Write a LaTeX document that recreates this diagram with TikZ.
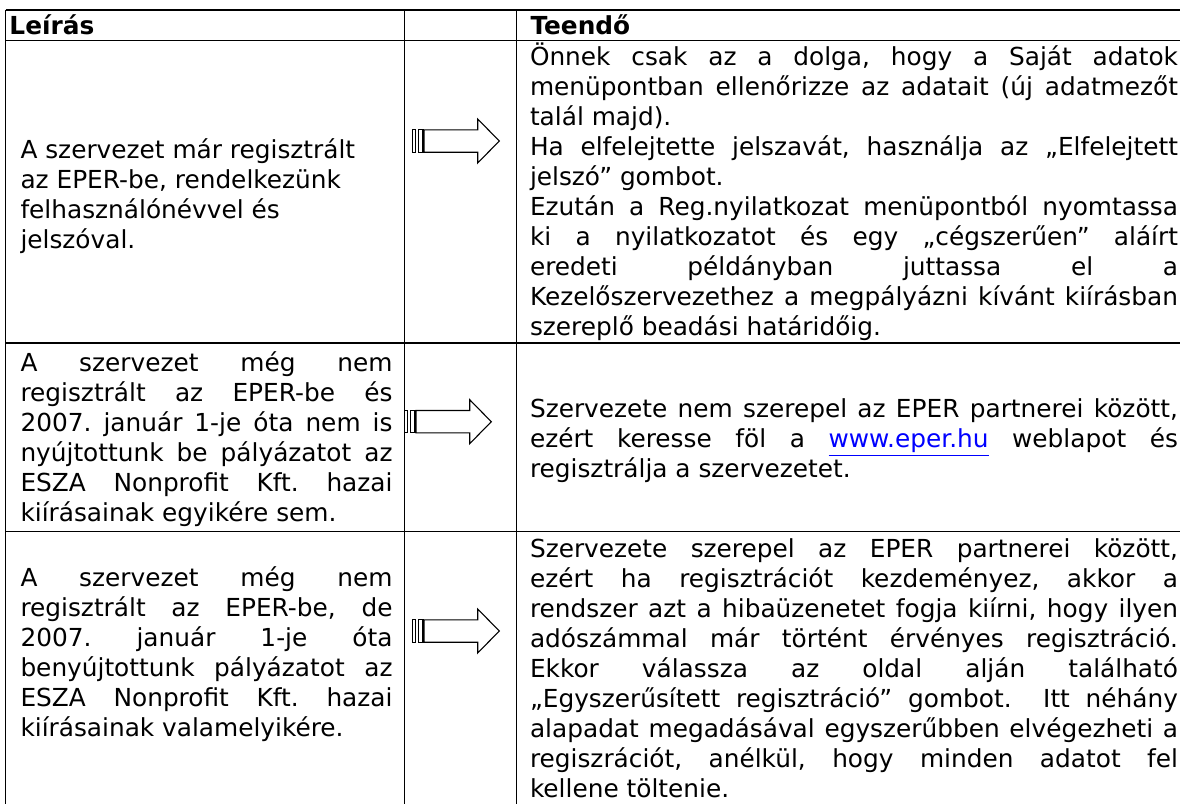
\documentclass[tikz,border=0pt]{standalone}
\usepackage{fontspec}
\setmainfont{DejaVu Sans}
\usepackage{xcolor}
\definecolor{linkblue}{RGB}{0,0,255}
\frenchspacing
\newcommand\bodyfont{\fontsize{12.4pt}{15pt}\selectfont\frenchspacing}
\newcommand\headfont{\fontsize{12.4pt}{15pt}\selectfont\bfseries}
\newcommand\JL[1]{\makebox[186pt][s]{#1}}
\newcommand\JR[1]{\makebox[324pt][s]{#1}}
\newcommand\weblink[1]{\textcolor{linkblue}{\underline{#1}}}
\tikzset{
  gridline/.style={line width=0.65pt, black},
  txt/.style={anchor=base west, inner sep=0pt, outer sep=0pt, font=\bodyfont, text=black},
  hd/.style={txt, font=\headfont},
  arrowpart/.style={draw=black, fill=white, line width=0.55pt, line join=miter},
}
\newcommand\stripedarrow[2]{%
  \begin{scope}[shift={(#1,#2)}]
    \draw[arrowpart] (0,-11.2) rectangle (3.4,11.2);
    \draw[arrowpart] (6,-11.2) rectangle (10.7,11.2);
    \draw[arrowpart] (11.7,-11.2) -- (65.4,-11.2) -- (65.4,-22) -- (87,0) -- (65.4,22) -- (65.4,11.2) -- (11.7,11.2) -- cycle;
  \end{scope}}
\begin{document}
\begin{tikzpicture}[x=0.5pt,y=-0.5pt]
\useasboundingbox (0,0) rectangle (1180,804);
\fill[white] (0,0) rectangle (1180,804);
\clip (0,0) rectangle (1180,804);
% table grid
\draw[gridline] (5.7,10) -- (1190,10);
\draw[gridline] (5.7,40.7) -- (1190,40.7);
\draw[gridline] (5.7,343) -- (1190,343);
\draw[gridline] (5.7,531.7) -- (1190,531.7);
\draw[gridline] (5.7,10) -- (5.7,810);
\draw[gridline] (404.3,10) -- (404.3,810);
\draw[gridline] (516.7,10) -- (516.7,810);
% header
\node[hd] (h1) at (9.5,34) {Leírás};
\node[hd] (h2) at (530.5,34) {Teendő};
% row 1 left
\node[txt] (r1a1) at (20.5,158) {A szervezet már regisztrált};
\node[txt] (r1a2) at (20.5,188) {az EPER-be, rendelkezünk};
\node[txt] (r1a3) at (20.5,218) {felhasználónévvel és};
\node[txt] (r1a4) at (20.5,248) {jelszóval.};
% row 1 right
\node[txt] (r1b1) at (530,65) {\JR{Önnek csak az a dolga, hogy a Saját adatok}};
\node[txt] (r1b2) at (530,95) {\JR{menüpontban ellenőrizze az adatait (új adatmezőt}};
\node[txt] (r1b3) at (530,125) {talál majd).};
\node[txt] (r1b4) at (530,155) {\JR{Ha elfelejtette jelszavát, használja az „Elfelejtett}};
\node[txt] (r1b5) at (530,185) {jelszó” gombot.};
\node[txt] (r1b6) at (530,215) {\JR{Ezután a Reg.nyilatkozat menüpontból nyomtassa}};
\node[txt] (r1b7) at (530,245) {\JR{ki a nyilatkozatot és egy „cégszerűen” aláírt}};
\node[txt] (r1b8) at (530,275) {\JR{eredeti példányban juttassa el a}};
\node[txt] (r1b9) at (530,305) {\JR{Kezelőszervezethez a megpályázni kívánt kiírásban}};
\node[txt] (r1b10) at (530,335) {szereplő beadási határidőig.};
% row 2 left
\node[txt] (r2a1) at (20.5,371) {\JL{A szervezet még nem}};
\node[txt] (r2a2) at (20.5,401) {\JL{regisztrált az EPER-be és}};
\node[txt] (r2a3) at (20.5,431) {\JL{2007. január 1-je óta nem is}};
\node[txt] (r2a4) at (20.5,461) {\JL{nyújtottunk be pályázatot az}};
\node[txt] (r2a5) at (20.5,491) {\JL{ESZA Nonprofit Kft. hazai}};
\node[txt] (r2a6) at (20.5,521) {kiírásainak egyikére sem.};
% row 2 right
\node[txt] (r2b1) at (530,417) {\JR{Szervezete nem szerepel az EPER partnerei között,}};
\node[txt] (r2b2) at (530,447) {\JR{ezért keresse föl a \weblink{www.eper.hu} weblapot és}};
\node[txt] (r2b3) at (530,477) {regisztrálja a szervezetet.};
% row 3 left
\node[txt] (r3a1) at (20.5,586) {\JL{A szervezet még nem}};
\node[txt] (r3a2) at (20.5,616) {\JL{regisztrált az EPER-be, de}};
\node[txt] (r3a3) at (20.5,646) {\JL{2007. január 1-je óta}};
\node[txt] (r3a4) at (20.5,676) {\JL{benyújtottunk pályázatot az}};
\node[txt] (r3a5) at (20.5,706) {\JL{ESZA Nonprofit Kft. hazai}};
\node[txt] (r3a6) at (20.5,736) {kiírásainak valamelyikére.};
% row 3 right
\node[txt] (r3b1) at (530,557) {\JR{Szervezete szerepel az EPER partnerei között,}};
\node[txt] (r3b2) at (530,587) {\JR{ezért ha regisztrációt kezdeményez, akkor a}};
\node[txt] (r3b3) at (530,617) {\JR{rendszer azt a hibaüzenetet fogja kiírni, hogy ilyen}};
\node[txt] (r3b4) at (530,647) {\JR{adószámmal már történt érvényes regisztráció.}};
\node[txt] (r3b5) at (530,677) {\JR{Ekkor válassza az oldal alján található}};
\node[txt] (r3b6) at (530,707) {\JR{„Egyszerűsített regisztráció” gombot.\ \ Itt néhány}};
\node[txt] (r3b7) at (530,737) {\JR{alapadat megadásával egyszerűbben elvégezheti a}};
\node[txt] (r3b8) at (530,767) {\JR{regiszrációt, anélkül, hogy minden adatot fel}};
\node[txt] (r3b9) at (530,797) {kellene töltenie.};
% arrows
\stripedarrow{412.3}{141}
\stripedarrow{404.3}{421.7}
\stripedarrow{412.3}{631}
\end{tikzpicture}
\end{document}
